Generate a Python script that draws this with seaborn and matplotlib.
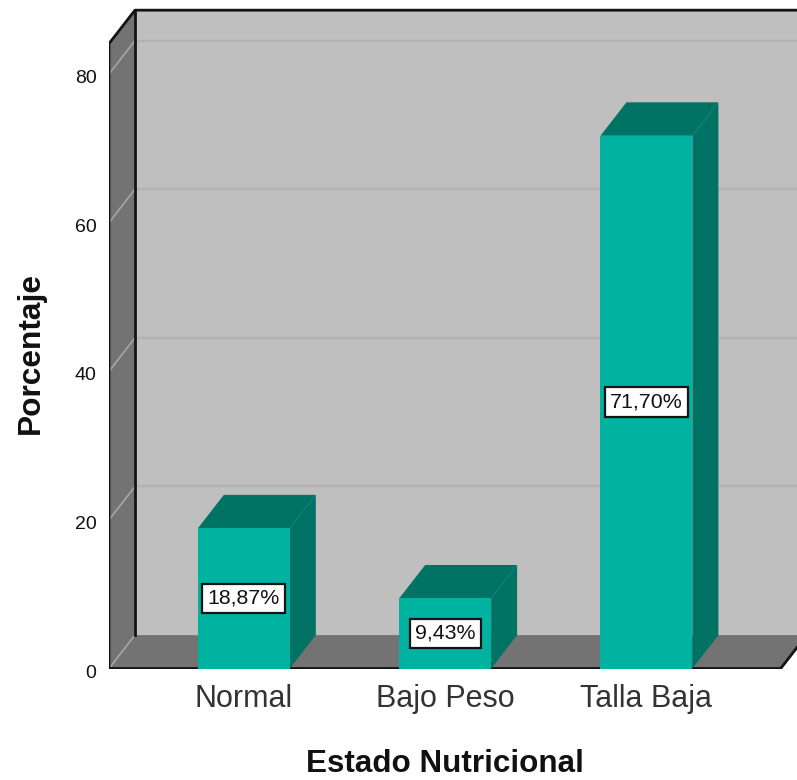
import matplotlib
matplotlib.use("Agg")
import matplotlib.pyplot as plt
from matplotlib.transforms import ScaledTranslation
import pandas as pd
import seaborn as sns

categories = ["Normal", "Bajo Peso", "Talla Baja"]
percentages = [18.87, 9.43, 71.70]
y_ticks = [0, 20, 40, 60, 80]

sns.set_theme(style="white")
plt.rcParams["font.family"] = ["Liberation Sans", "DejaVu Sans"]

WALL = "#BFBFBF"
SHADE = "#737373"
TEAL = "#00B2A0"
TEAL_DARK = "#007364"
INK = "#141414"

# Oblique projection of the chart box, in data units
DEPTH_X = 0.129
DEPTH_Y = 4.5
BOX_TOP = 84.1
BAR_WIDTH = 0.457
X_MIN, X_MAX, X_FRONT_END = -0.670, 2.748, 2.667
Y_LIMIT = 89.97

fig = plt.figure(figsize=(7.97, 7.80), dpi=100)
ax = fig.add_axes([109 / 797, (780 - 668.5) / 780, (797 - 109) / 797, 668.5 / 780])

table = pd.DataFrame({"Estado": categories, "Porcentaje": percentages})
sns.barplot(data=table, x="Estado", y="Porcentaje", color=TEAL, saturation=1,
            width=BAR_WIDTH, linewidth=0, zorder=5, ax=ax)
ax.set_xlim(X_MIN, X_MAX)
ax.set_ylim(0, Y_LIMIT)

back_left = X_MIN + DEPTH_X
back_right = X_FRONT_END + DEPTH_X

# Back wall, left wall and floor
ax.fill([back_left, X_MAX, X_MAX, back_left],
        [DEPTH_Y, DEPTH_Y, BOX_TOP + DEPTH_Y, BOX_TOP + DEPTH_Y], color=WALL, lw=0, zorder=0)
ax.fill([X_MIN, back_left, back_left, X_MIN],
        [0, DEPTH_Y, BOX_TOP + DEPTH_Y, BOX_TOP], color=SHADE, lw=0, zorder=0.5)
ax.fill([X_MIN, X_FRONT_END, back_right, back_left],
        [0, 0, DEPTH_Y, DEPTH_Y], color=SHADE, lw=0, zorder=0.5)

# Gridlines run along the back wall and across the left wall
for tick in y_ticks:
    if tick > 0:
        ax.plot([back_left, X_MAX], [tick + DEPTH_Y] * 2, color="#B3B3B3", lw=1.6, zorder=1)
    ax.plot([X_MIN, back_left], [tick, tick + DEPTH_Y], color="#A6A6A6", lw=1.2, zorder=1)

# Box outline
line = dict(color=INK, lw=2.0, zorder=2, solid_capstyle="projecting")
ax.plot([X_MIN, X_MIN, back_left, X_MAX], [0, BOX_TOP, BOX_TOP + DEPTH_Y, BOX_TOP + DEPTH_Y], **line)
ax.plot([back_left, back_left], [DEPTH_Y, BOX_TOP + DEPTH_Y], **line)
ax.plot([X_MIN, X_FRONT_END, back_right], [0, 0, DEPTH_Y], **line)

# Top and side faces of each bar, with its value label
for pos, value in enumerate(percentages):
    left = pos - BAR_WIDTH / 2
    right = pos + BAR_WIDTH / 2
    ax.fill([left, right, right + DEPTH_X, left + DEPTH_X],
            [value, value, value + DEPTH_Y, value + DEPTH_Y], color=TEAL_DARK, lw=0, zorder=4)
    ax.fill([right, right + DEPTH_X, right + DEPTH_X, right],
            [0, DEPTH_Y, value + DEPTH_Y, value], color=TEAL_DARK, lw=0, zorder=4)
    ax.text(pos, value / 2, f"{value:.2f}%".replace(".", ","), ha="center", va="center",
            fontsize=15.4, color="#111111", zorder=6,
            bbox=dict(boxstyle="square,pad=0.25", fc="white", ec=INK, lw=1.6))

ax.set_yticks(y_ticks)
ax.set_xticks(range(len(categories)), categories)
ax.tick_params(axis="y", length=0, pad=9, labelsize=14, labelcolor="#111111")
ax.tick_params(axis="x", length=0, pad=11.5, labelsize=22, labelcolor="#333333")
ax.patch.set_visible(False)
sns.despine(ax=ax, left=True, bottom=True)

# Nudge the value axis labels slightly below their gridline level
nudge = ScaledTranslation(0, -0.025, fig.dpi_scale_trans)
for label in ax.get_yticklabels():
    label.set_transform(label.get_transform() + nudge)

ax.set_xlabel("Estado Nutricional", fontsize=22.6, fontweight="bold", color="#111111")
ax.set_ylabel("Porcentaje", fontsize=22.8, fontweight="bold", color="#111111")
ax.xaxis.set_label_coords((1 - X_MIN) / (X_MAX - X_MIN), -96 / 668.5, transform=ax.transAxes)
ax.xaxis.label.set_va("center")
ax.yaxis.set_label_coords(-78 / 688, (668.5 - 353) / 668.5, transform=ax.transAxes)
ax.yaxis.label.set_va("center")

fig.savefig("out.png", dpi=100, facecolor="white")
